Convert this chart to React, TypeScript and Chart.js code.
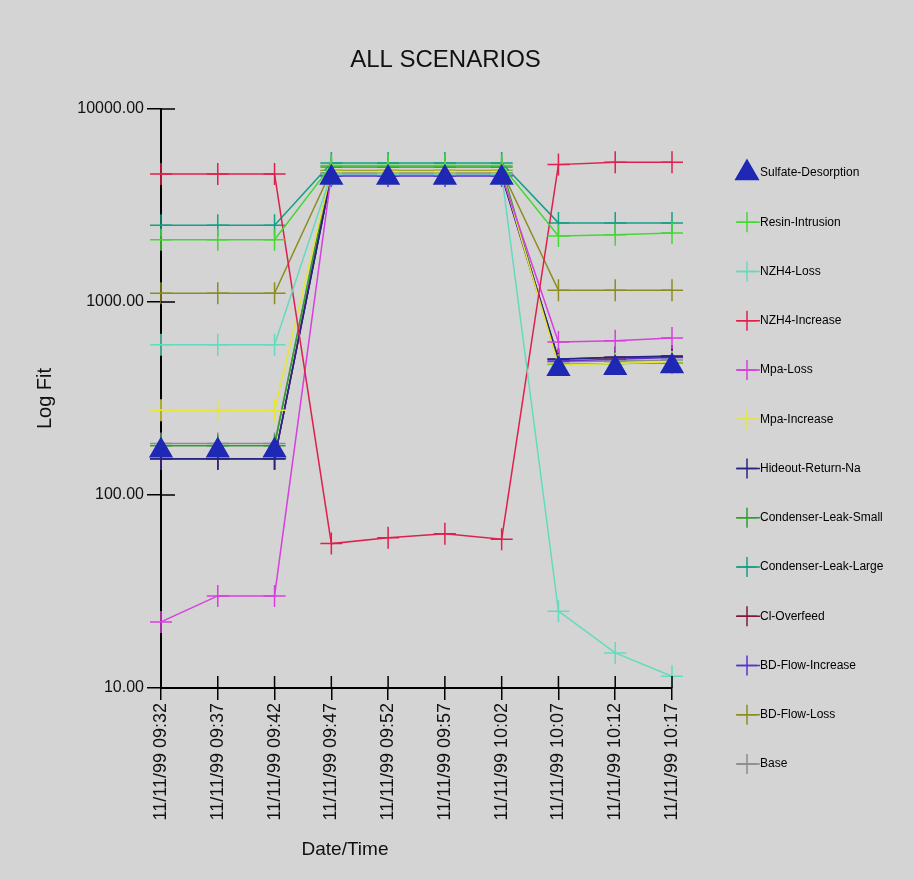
import React, { useEffect, useRef } from 'react';
import { Chart, registerables } from 'chart.js';
import { drawPoint } from 'chart.js/helpers';

Chart.register(...registerables);

// ---------- data ----------
const timeLabels = [
  '11/11/99 09:32', '11/11/99 09:37', '11/11/99 09:42', '11/11/99 09:47', '11/11/99 09:52',
  '11/11/99 09:57', '11/11/99 10:02', '11/11/99 10:07', '11/11/99 10:12', '11/11/99 10:17',
];
const yTickValues = [10, 100, 1000, 10000];

const sulfateDesorption = [170, 170, 170, 4400, 4400, 4400, 4400, 450, 455, 465];
const resinIntrusion = [2100, 2100, 2100, 5100, 5100, 5100, 5100, 2200, 2230, 2280];
const nzh4Loss = [600, 600, 600, 4600, 4600, 4600, 4600, 25, 15.2, 11.5];
const nzh4Increase = [4600, 4600, 4600, 56, 60, 63, 59, 5150, 5300, 5300];
const mpaLoss = [22, 30, 30, 4550, 4550, 4550, 4550, 620, 630, 650];
const mpaIncrease = [275, 275, 275, 4750, 4750, 4750, 4750, 470, 480, 490];
const hideoutReturnNa = [154, 154, 154, 4550, 4550, 4550, 4550, 507, 518, 525];
const condenserLeakSmall = [180, 180, 180, 5000, 5000, 5000, 5000, 475, 480, 485];
const condenserLeakLarge = [2500, 2500, 2500, 5250, 5250, 5250, 5250, 2570, 2570, 2570];
const clOverfeed = [154, 154, 154, 4600, 4600, 4600, 4600, 505, 515, 522];
const bdFlowIncrease = [154, 154, 154, 4500, 4500, 4500, 4500, 495, 505, 515];
const bdFlowLoss = [1110, 1110, 1110, 4800, 4800, 4800, 4800, 1150, 1150, 1150];
const baseSeries = [185, 185, 185, 4700, 4700, 4700, 4700, 490, 495, 500];

const seriesNames = [
  'Sulfate-Desorption', 'Resin-Intrusion', 'NZH4-Loss', 'NZH4-Increase', 'Mpa-Loss',
  'Mpa-Increase', 'Hideout-Return-Na', 'Condenser-Leak-Small', 'Condenser-Leak-Large',
  'Cl-Overfeed', 'BD-Flow-Increase', 'BD-Flow-Loss', 'Base',
];
const seriesValues = [
  sulfateDesorption, resinIntrusion, nzh4Loss, nzh4Increase, mpaLoss, mpaIncrease,
  hideoutReturnNa, condenserLeakSmall, condenserLeakLarge, clOverfeed, bdFlowIncrease,
  bdFlowLoss, baseSeries,
];
const seriesColors = [
  '#1e28b4', '#44d834', '#62dcbc', '#e0204c', '#d83ee0', '#e6e634', '#26267e',
  '#2ea02e', '#14a084', '#801838', '#5a30d0', '#8c8c20', '#8c8c8c',
];

const FONT = "'Liberation Sans', Arial, sans-serif";

const bgPlugin = {
  id: 'bg',
  beforeDraw(chart: any) {
    const { ctx, width, height } = chart;
    ctx.save();
    ctx.fillStyle = '#d4d4d4';
    ctx.fillRect(0, 0, width, height);
    ctx.restore();
  },
};

const extrasPlugin = {
  id: 'extras',
  afterDraw(chart: any) {
    const { ctx, chartArea } = chart;
    const x = chart.scales.x;
    const y = chart.scales.y;
    ctx.save();
    // inner halves of crossing ticks
    ctx.strokeStyle = '#000';
    ctx.lineWidth = 1.5;
    yTickValues.forEach((v) => {
      const py = y.getPixelForValue(v);
      ctx.beginPath();
      ctx.moveTo(chartArea.left, py);
      ctx.lineTo(chartArea.left + 14, py);
      ctx.stroke();
    });
    timeLabels.forEach((_, i) => {
      const px = x.getPixelForValue(i);
      ctx.beginPath();
      ctx.moveTo(px, chartArea.bottom);
      ctx.lineTo(px, chartArea.bottom - 12);
      ctx.stroke();
    });
    // x-axis title
    ctx.fillStyle = '#111';
    ctx.font = `19px ${FONT}`;
    ctx.textAlign = 'center';
    ctx.textBaseline = 'middle';
    ctx.fillText('Date/Time', chartArea.left + 184, chartArea.bottom + 162);

    // legend
    chart.data.datasets.forEach((ds: any, i: number) => {
      const lx = chartArea.right + 75;
      const ly = chartArea.top + 64 + i * 49.25;
      if (ds.showLine !== false) {
        ctx.strokeStyle = ds.borderColor;
        ctx.lineWidth = 1.5;
        ctx.beginPath();
        ctx.moveTo(lx - 11, ly);
        ctx.lineTo(lx + 13, ly);
        ctx.stroke();
      }
      ctx.strokeStyle = ds.borderColor;
      ctx.fillStyle = ds.backgroundColor;
      ctx.lineWidth = 1.5;
      drawPoint(ctx, {
        pointStyle: ds.pointStyle,
        radius: ds.pointStyle === 'triangle' ? 13 : 10,
        borderWidth: 1.5,
        rotation: 0,
      } as any, lx, ly);
      ctx.fillStyle = '#000';
      ctx.font = `12px ${FONT}`;
      ctx.textAlign = 'left';
      ctx.textBaseline = 'middle';
      ctx.fillText(ds.label, lx + 13, ly);
    });
    ctx.restore();
  },
};

export default function App() {
  const canvasRef = useRef<HTMLCanvasElement | null>(null);

  useEffect(() => {
    if (!canvasRef.current) return;
    const datasets = seriesNames.map((name, i) => {
      const isTri = i === 0;
      return {
        label: name,
        data: seriesValues[i],
        borderColor: seriesColors[i],
        backgroundColor: seriesColors[i],
        borderWidth: 1.5,
        showLine: !isTri,
        pointStyle: isTri ? 'triangle' : 'cross',
        pointRadius: isTri ? 12.5 : 11,
        pointBorderWidth: 1.5,
        pointBackgroundColor: seriesColors[i],
        pointBorderColor: seriesColors[i],
        tension: 0,
        clip: false,
      };
    });

    const chart = new Chart(canvasRef.current, {
      type: 'line',
      data: { labels: timeLabels, datasets: datasets as any },
      plugins: [bgPlugin, extrasPlugin],
      options: {
        animation: false,
        responsive: true,
        maintainAspectRatio: false,
        layout: { padding: { left: 0, right: 22, top: 0, bottom: 0 } },
        plugins: {
          legend: { display: false },
          tooltip: { enabled: false },
          title: {
            display: true,
            text: 'ALL SCENARIOS',
            color: '#111',
            font: { family: FONT, size: 24, weight: 'normal' },
            padding: { top: 45.6, bottom: 34.6 },
          },
        },
        scales: {
          x: {
            type: 'category',
            offset: false,
            grid: {
              display: true,
              drawOnChartArea: false,
              drawTicks: true,
              tickLength: 12,
              color: '#000',
              lineWidth: 1.5,
            },
            border: { display: true, color: '#000', width: 2 },
            ticks: {
              autoSkip: false,
              minRotation: 90,
              maxRotation: 90,
              padding: 3,
              color: '#111',
              font: { family: FONT, size: 18 },
            },
            afterFit(scale: any) {
              scale.height = 191;
            },
          },
          y: {
            type: 'logarithmic',
            position: 'left',
            min: 10,
            max: 10000,
            afterBuildTicks(scale: any) {
              scale.ticks = yTickValues.map((v) => ({ value: v }));
            },
            grid: {
              display: true,
              drawOnChartArea: false,
              drawTicks: true,
              tickLength: 14,
              color: '#000',
              lineWidth: 1.5,
            },
            border: { display: true, color: '#000', width: 2 },
            ticks: {
              padding: 3,
              color: '#111',
              font: { family: FONT, size: 16 },
              callback: (v: any) => Number(v).toFixed(2),
            },
            title: {
              display: true,
              text: 'Log Fit',
              color: '#111',
              font: { family: FONT, size: 20 },
              padding: { top: 33, bottom: 0 },
            },
            afterFit(scale: any) {
              scale.width = 161;
            },
          },
          yRight: {
            type: 'linear',
            position: 'right',
            display: true,
            grid: { display: false },
            border: { display: false },
            ticks: { display: false },
            afterFit(scale: any) {
              scale.width = 219;
            },
          },
        },
      },
    });
    return () => chart.destroy();
  }, []);

  return (
    <div style={{ position: 'absolute', left: 0, top: 0, width: 913, height: 879 }}>
      <canvas ref={canvasRef} />
    </div>
  );
}
